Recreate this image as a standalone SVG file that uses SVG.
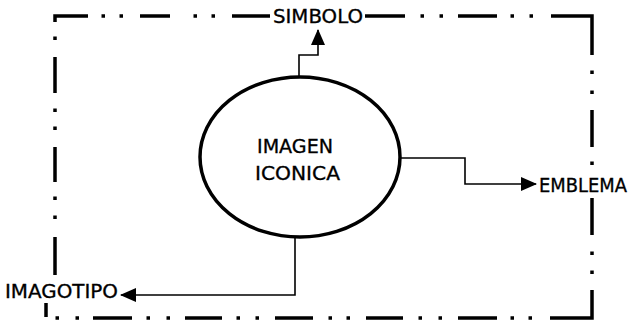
<svg xmlns="http://www.w3.org/2000/svg" width="632" height="325" viewBox="0 0 632 325">
  <style>
    .frame { fill: none; stroke: #000; stroke-width: 3.5; stroke-linecap: butt; stroke-linejoin: miter; }
    .link { fill: none; stroke: #000; stroke-width: 1.6; }
    .label { font-family: "DejaVu Sans", "Liberation Sans", sans-serif; font-size: 20px; fill: #000; stroke: #000; stroke-width: 0.35; }
    .oval { fill: #fff; stroke: #000; stroke-width: 3.5; }
  </style>
  <defs>
    <marker id="arrow" viewBox="0 0 16 14" refX="15" refY="7" markerWidth="16" markerHeight="14" orient="auto" markerUnits="userSpaceOnUse">
      <path d="M0 0 L16 7 L0 14 Z" fill="#000"/>
    </marker>
  </defs>
  <rect width="632" height="325" fill="#fff"/>

  <!-- dash-dot-dot frame -->
  <g id="frame">
    <path class="frame" d="
      M55 22 V16 H88 M101.5 16 h3.5 M119.5 16 h3.5 M140 16 H170 M193.5 16 h3.5 M211.5 16 h3.5 M232 16 H270
      M365 16 H405 M420.5 16 h3.5 M439.5 16 h3.5 M458 16 H497 M510.5 16 h3.5 M529.5 16 h3.5 M551 16 H592 V55
      M592 70.5 v3.5 M592 90.5 v3.5 M592 110 V147 M592 161.5 v3.5 M592 198 V235 M592 251.5 v3.5 M592 270.5 v3.5
      M592 290 V318 H550
      M55 36.5 v3.5 M55 57 V93 M55 108.5 v3.5 M55 126.5 v3.5 M55 147 V182 M55 196.5 v3.5 M55 215.5 v3.5 M55 237 V275
      M46 303 V317
      M55.5 318 h3.5 M75.5 318 h3.5 M93 318 H132 M146.5 318 h3.5 M166.5 318 h3.5 M185 318 H222 M236.5 318 h3.5 M255.5 318 h3.5
      M275 318 H313 M328.5 318 h3.5 M346.5 318 h3.5 M366 318 H403 M418.5 318 h3.5 M438.5 318 h3.5 M458 318 H497
      M510.5 318 h3.5 M528.5 318 h3.5"/>
  </g>

  <!-- connectors -->
  <g id="connectors">
    <path class="link" d="M299 77 V55 H318 V30" marker-end="url(#arrow)"/>
    <path class="link" d="M400 158 H465 V184 H536" marker-end="url(#arrow)"/>
    <path class="link" d="M295 237 V295 H121" marker-end="url(#arrow)"/>
  </g>

  <g id="node-imagen-iconica">
    <ellipse class="oval" cx="300" cy="157" rx="100" ry="80"/>
    <text class="label" x="257" y="153" textLength="76" lengthAdjust="spacingAndGlyphs">IMAGEN</text>
    <text class="label" x="255" y="180" textLength="85" lengthAdjust="spacingAndGlyphs">ICONICA</text>
  </g>

  <g id="node-simbolo">
    <text class="label" x="273" y="23" textLength="90" lengthAdjust="spacingAndGlyphs">SIMBOLO</text>
  </g>

  <g id="node-emblema">
    <text class="label" x="539" y="192" textLength="88" lengthAdjust="spacingAndGlyphs">EMBLEMA</text>
  </g>

  <g id="node-imagotipo">
    <text class="label" x="5" y="298" textLength="113" lengthAdjust="spacingAndGlyphs">IMAGOTIPO</text>
  </g>
</svg>
